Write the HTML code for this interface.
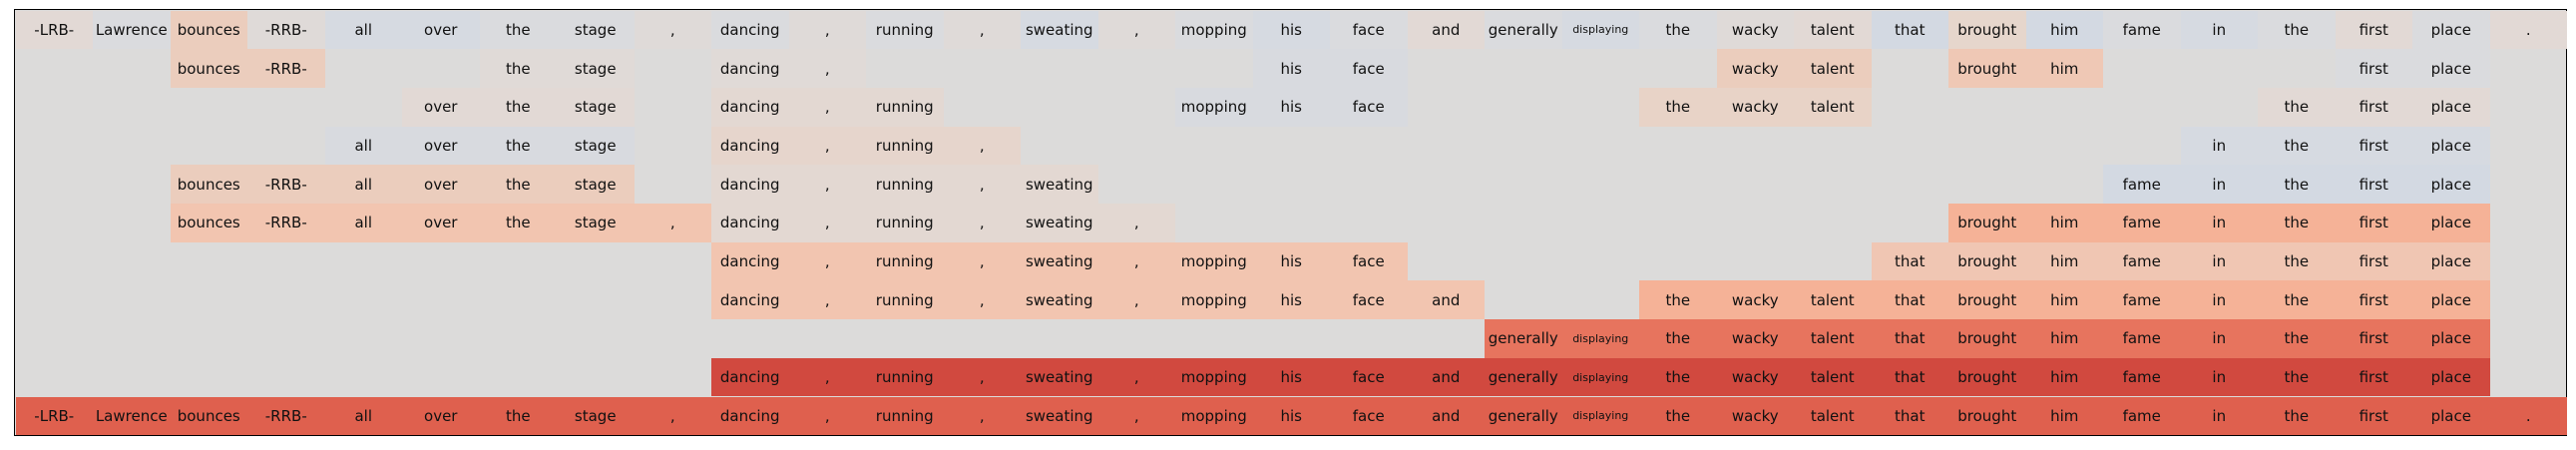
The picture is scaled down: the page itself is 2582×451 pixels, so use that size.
<!DOCTYPE html>
<html><head><meta charset="utf-8"><style>
html,body{margin:0;padding:0;background:#fff;width:2582px;height:451px;overflow:hidden}
.f{position:absolute;left:15px;top:10px;width:2557px;height:426px;background:#dcdbda;border:1.5px solid #000;box-sizing:content-box;margin:-1px 0 0 -1px}
.r{position:absolute;left:15.5px;width:2557.5px;height:38.7px;display:grid;grid-template-columns:repeat(33,77.5px);font-family:"DejaVu Sans","Liberation Sans",sans-serif;font-size:15px;color:#111}
.r>*{display:flex;align-items:center;justify-content:center;font-style:normal;font-weight:normal;white-space:nowrap}
.m{font-size:11px}
.a{background:#e2d9d5}.g{background:#dadbde}.p{background:#ebcdbd}.q{background:#dfdad8}.b{background:#d6dae1}.c{background:#d3d9e2}.w{background:#e6d6cc}.s{background:#f2c5b0}.t{background:#f5b297}.u{background:#f0c6b3}.o{background:#e7745e}.d{background:#d1493f}.e{background:#df604e}.h{background:#e8d3c7}.x{background:#d8dadf}.y{background:#e3d8d2}.k{background:#e0dad7}.l{background:#efc8b5}.n{background:#e6d5cc}
</style></head><body>
<div class="f"></div>
<div class="r" style="top:10.5px"><span class="a">-LRB-</span><span class="g">Lawrence</span><span class="p">bounces</span><span class="q">-RRB-</span><span class="b">all</span><span class="b">over</span><span class="g">the</span><span class="g">stage</span><span class="q">,</span><span class="g">dancing</span><span class="q">,</span><span class="g">running</span><span class="q">,</span><span class="b">sweating</span><span class="q">,</span><span class="g">mopping</span><span class="b">his</span><span class="g">face</span><span class="a">and</span><span class="g">generally</span><span class="b m">displaying</span><span class="g">the</span><span class="q">wacky</span><span class="a">talent</span><span class="c">that</span><span class="w">brought</span><span class="c">him</span><span class="g">fame</span><span class="b">in</span><span class="g">the</span><span class="a">first</span><span class="g">place</span><span class="a">.</span></div>
<div class="r" style="top:49.2px"><i></i><i></i><span class="p">bounces</span><span class="p">-RRB-</span><i></i><i></i><span class="k">the</span><span class="k">stage</span><i></i><span class="k">dancing</span><span class="k">,</span><i></i><i></i><i></i><i></i><i></i><span class="x">his</span><span class="x">face</span><i></i><i></i><i></i><i></i><span class="p">wacky</span><span class="p">talent</span><i></i><span class="l">brought</span><span class="l">him</span><i></i><i></i><i></i><span class="g">first</span><span class="g">place</span><i></i></div>
<div class="r" style="top:87.9px"><i></i><i></i><i></i><i></i><i></i><span class="a">over</span><span class="a">the</span><span class="a">stage</span><i></i><span class="y">dancing</span><span class="y">,</span><span class="y">running</span><i></i><i></i><i></i><span class="x">mopping</span><span class="x">his</span><span class="x">face</span><i></i><i></i><i></i><span class="h">the</span><span class="h">wacky</span><span class="h">talent</span><i></i><i></i><i></i><i></i><i></i><span class="a">the</span><span class="a">first</span><span class="a">place</span><i></i></div>
<div class="r" style="top:126.6px"><i></i><i></i><i></i><i></i><span class="x">all</span><span class="x">over</span><span class="x">the</span><span class="x">stage</span><i></i><span class="n">dancing</span><span class="n">,</span><span class="n">running</span><span class="n">,</span><i></i><i></i><i></i><i></i><i></i><i></i><i></i><i></i><i></i><i></i><i></i><i></i><i></i><i></i><i></i><span class="b">in</span><span class="b">the</span><span class="b">first</span><span class="b">place</span><i></i></div>
<div class="r" style="top:165.3px"><i></i><i></i><span class="p">bounces</span><span class="p">-RRB-</span><span class="p">all</span><span class="p">over</span><span class="p">the</span><span class="p">stage</span><i></i><span class="y">dancing</span><span class="y">,</span><span class="y">running</span><span class="y">,</span><span class="y">sweating</span><i></i><i></i><i></i><i></i><i></i><i></i><i></i><i></i><i></i><i></i><i></i><i></i><i></i><span class="c">fame</span><span class="c">in</span><span class="c">the</span><span class="c">first</span><span class="c">place</span><i></i></div>
<div class="r" style="top:204px"><i></i><i></i><span class="s">bounces</span><span class="s">-RRB-</span><span class="s">all</span><span class="s">over</span><span class="s">the</span><span class="s">stage</span><span class="s">,</span><span class="y">dancing</span><span class="y">,</span><span class="y">running</span><span class="y">,</span><span class="y">sweating</span><span class="y">,</span><i></i><i></i><i></i><i></i><i></i><i></i><i></i><i></i><i></i><i></i><span class="t">brought</span><span class="t">him</span><span class="t">fame</span><span class="t">in</span><span class="t">the</span><span class="t">first</span><span class="t">place</span><i></i></div>
<div class="r" style="top:242.7px"><i></i><i></i><i></i><i></i><i></i><i></i><i></i><i></i><i></i><span class="s">dancing</span><span class="s">,</span><span class="s">running</span><span class="s">,</span><span class="s">sweating</span><span class="s">,</span><span class="s">mopping</span><span class="s">his</span><span class="s">face</span><i></i><i></i><i></i><i></i><i></i><i></i><span class="u">that</span><span class="u">brought</span><span class="u">him</span><span class="u">fame</span><span class="u">in</span><span class="u">the</span><span class="u">first</span><span class="u">place</span><i></i></div>
<div class="r" style="top:281.4px"><i></i><i></i><i></i><i></i><i></i><i></i><i></i><i></i><i></i><span class="s">dancing</span><span class="s">,</span><span class="s">running</span><span class="s">,</span><span class="s">sweating</span><span class="s">,</span><span class="s">mopping</span><span class="s">his</span><span class="s">face</span><span class="s">and</span><i></i><i></i><span class="t">the</span><span class="t">wacky</span><span class="t">talent</span><span class="t">that</span><span class="t">brought</span><span class="t">him</span><span class="t">fame</span><span class="t">in</span><span class="t">the</span><span class="t">first</span><span class="t">place</span><i></i></div>
<div class="r" style="top:320.1px"><i></i><i></i><i></i><i></i><i></i><i></i><i></i><i></i><i></i><i></i><i></i><i></i><i></i><i></i><i></i><i></i><i></i><i></i><i></i><span class="o">generally</span><span class="o m">displaying</span><span class="o">the</span><span class="o">wacky</span><span class="o">talent</span><span class="o">that</span><span class="o">brought</span><span class="o">him</span><span class="o">fame</span><span class="o">in</span><span class="o">the</span><span class="o">first</span><span class="o">place</span><i></i></div>
<div class="r" style="top:358.8px"><i></i><i></i><i></i><i></i><i></i><i></i><i></i><i></i><i></i><span class="d">dancing</span><span class="d">,</span><span class="d">running</span><span class="d">,</span><span class="d">sweating</span><span class="d">,</span><span class="d">mopping</span><span class="d">his</span><span class="d">face</span><span class="d">and</span><span class="d">generally</span><span class="d m">displaying</span><span class="d">the</span><span class="d">wacky</span><span class="d">talent</span><span class="d">that</span><span class="d">brought</span><span class="d">him</span><span class="d">fame</span><span class="d">in</span><span class="d">the</span><span class="d">first</span><span class="d">place</span><i></i></div>
<div class="r" style="top:397.5px"><span class="e">-LRB-</span><span class="e">Lawrence</span><span class="e">bounces</span><span class="e">-RRB-</span><span class="e">all</span><span class="e">over</span><span class="e">the</span><span class="e">stage</span><span class="e">,</span><span class="e">dancing</span><span class="e">,</span><span class="e">running</span><span class="e">,</span><span class="e">sweating</span><span class="e">,</span><span class="e">mopping</span><span class="e">his</span><span class="e">face</span><span class="e">and</span><span class="e">generally</span><span class="e m">displaying</span><span class="e">the</span><span class="e">wacky</span><span class="e">talent</span><span class="e">that</span><span class="e">brought</span><span class="e">him</span><span class="e">fame</span><span class="e">in</span><span class="e">the</span><span class="e">first</span><span class="e">place</span><span class="e">.</span></div>
</body></html>
